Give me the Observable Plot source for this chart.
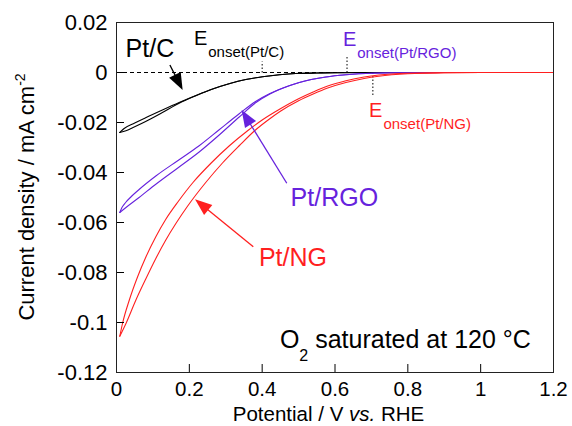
<!DOCTYPE html>
<html><head><meta charset="utf-8">
<script src="https://cdn.jsdelivr.net/npm/d3@7"></script>
<script src="https://cdn.jsdelivr.net/npm/@observablehq/plot@0.6"></script>
<style>html,body{margin:0;padding:0;background:#fff;overflow:hidden}</style>
</head><body><div id="chart"></div>
<script>
const FONT = "'Liberation Sans', Arial, sans-serif";
const series = ["Pt/C", "Pt/RGO", "Pt/NG"];
const colors = ["#000000", "#6622dd", "#ff1f1f"];
const xTicks = [0, 0.2, 0.4, 0.6, 0.8, 1, 1.2];
const yTicks = [0.02, 0, -0.02, -0.04, -0.06, -0.08, -0.1, -0.12];

// Pt/C branches (potential V vs RHE, current density mA cm-2)
const ptcE_a = [0.009, 0.02, 0.05, 0.08, 0.126, 0.172, 0.218, 0.264, 0.309, 0.355, 0.401, 0.447, 0.492, 0.55, 0.6, 0.7, 0.8, 0.9, 1.0, 1.1, 1.2];
const ptcJ_a = [-0.0240, -0.0225, -0.0202, -0.0181, -0.0150, -0.0120, -0.0092, -0.0066, -0.0045, -0.0028, -0.0017, -0.0009, -0.0004, -0.0002, -0.0001, 0, 0, 0, 0, 0, 0];
const ptcE_b = [0.009, 0.026, 0.05, 0.08, 0.126, 0.172, 0.218, 0.264, 0.309, 0.355, 0.401, 0.447, 0.492, 0.55, 0.6, 0.7, 0.8, 0.9, 1.0, 1.1, 1.2];
const ptcJ_b = [-0.0240, -0.0233, -0.0217, -0.0196, -0.0160, -0.0123, -0.0093, -0.0066, -0.0045, -0.0028, -0.0017, -0.0009, -0.0004, -0.0002, -0.0001, 0, 0, 0, 0, 0, 0];

// Pt/RGO branches
const rgoE_a = [0.009, 0.015, 0.025, 0.04, 0.062, 0.108, 0.172, 0.227, 0.282, 0.337, 0.383, 0.42, 0.447, 0.502, 0.575, 0.630, 0.703, 0.8, 0.9, 1.0, 1.2];
const rgoJ_a = [-0.0560, -0.0540, -0.0520, -0.0497, -0.0468, -0.0414, -0.0349, -0.0293, -0.0229, -0.0165, -0.0115, -0.0085, -0.0068, -0.0040, -0.0018, -0.0009, -0.0003, -0.0001, 0, 0, 0];
const rgoE_b = [0.009, 0.026, 0.062, 0.108, 0.172, 0.227, 0.282, 0.337, 0.383, 0.42, 0.447, 0.502, 0.575, 0.630, 0.703, 0.8, 0.9, 1.0, 1.2];
const rgoJ_b = [-0.0560, -0.0540, -0.0500, -0.0447, -0.0378, -0.0318, -0.0250, -0.0178, -0.0120, -0.0087, -0.0068, -0.0040, -0.0018, -0.0009, -0.0003, -0.0001, 0, 0, 0];

// Pt/NG branches
const ngE_a = [0.009, 0.0165, 0.035, 0.058, 0.081, 0.108, 0.135, 0.17, 0.21, 0.26, 0.31, 0.36, 0.40, 0.45, 0.50, 0.54, 0.58, 0.63, 0.68, 0.72, 0.8, 0.9, 1.0, 1.2];
const ngJ_a = [-0.1055, -0.1004, -0.0911, -0.0817, -0.0737, -0.0657, -0.0588, -0.0515, -0.0440, -0.0362, -0.0293, -0.0233, -0.0190, -0.0145, -0.0105, -0.0078, -0.0054, -0.0033, -0.0018, -0.0010, -0.0003, -0.0001, 0, 0];
const ngE_b = [0.009, 0.026, 0.053, 0.081, 0.108, 0.135, 0.163, 0.195, 0.245, 0.291, 0.337, 0.38, 0.42, 0.45, 0.50, 0.54, 0.58, 0.63, 0.68, 0.72, 0.8, 0.9, 1.0, 1.2];
const ngJ_b = [-0.1055, -0.1004, -0.0911, -0.0824, -0.0744, -0.0671, -0.0604, -0.0535, -0.0440, -0.0362, -0.0293, -0.0232, -0.0186, -0.0155, -0.0113, -0.0086, -0.0062, -0.0040, -0.0024, -0.0015, -0.0005, -0.0001, 0, 0];

// onset potentials (dotted markers)
const onsetE = [0.40, 0.633, 0.704];
const onsetJend = [0.0044, 0.0068, -0.0097];
const onsetLabelE = [0.214, 0.623, 0.695];
const onsetLabelJ = [0.0108, 0.0105, -0.0179];

// series labels and arrows
const labelE = [0.025, 0.478, 0.391];
const labelJ = [0.0064, -0.0532, -0.0772];
const arrowFromE = [0.148, 0.469, 0.377];
const arrowFromJ = [0.0028, -0.0445, -0.0699];
const arrowToE = [0.183, 0.345, 0.217];
const arrowToJ = [-0.0072, -0.0152, -0.0509];

// note
const noteE = 0.450, noteJ = -0.1104;

const rows = [];
function addBranch(name, branch, E, J) { E.forEach((e, i) => rows.push({series: name, branch, E: e, j: J[i]})); }
addBranch("Pt/C", "a", ptcE_a, ptcJ_a);
addBranch("Pt/C", "b", ptcE_b, ptcJ_b);
addBranch("Pt/RGO", "a", rgoE_a, rgoJ_a);
addBranch("Pt/RGO", "b", rgoE_b, rgoJ_b);
addBranch("Pt/NG", "a", ngE_a, ngJ_a);
addBranch("Pt/NG", "b", ngE_b, ngJ_b);

const onsetRows = onsetE.map((e, i) => ({E: e, j2: onsetJend[i]}));
const labelRows = series.map((s, i) => ({series: s, E: labelE[i], j: labelJ[i]}));

const W = 572, H = 426, ML = 116, MR = 19, MT = 22, MB = 54;

function annotations(index, scales, values, dimensions) {
  const {x, y} = scales;
  const g = d3.create("svg:g").attr("font-family", FONT).attr("text-anchor", "start");
  for (let i = 0; i < arrowFromE.length; i++) {
    const x1 = x(arrowFromE[i]), y1 = y(arrowFromJ[i]);
    const x2 = x(arrowToE[i]), y2 = y(arrowToJ[i]);
    const a = Math.atan2(y2 - y1, x2 - x1);
    const L = 17, hw = 6.5;
    const bx = x2 - L * Math.cos(a), by = y2 - L * Math.sin(a);
    g.append("line").attr("x1", x1).attr("y1", y1).attr("x2", bx + 2 * Math.cos(a)).attr("y2", by + 2 * Math.sin(a))
      .attr("stroke", colors[i]).attr("stroke-width", 1.3);
    g.append("path")
      .attr("d", `M${x2},${y2}L${bx - hw * Math.sin(a)},${by + hw * Math.cos(a)}L${bx + hw * Math.sin(a)},${by - hw * Math.cos(a)}Z`)
      .attr("fill", colors[i]);
  }
  for (let i = 0; i < onsetLabelE.length; i++) {
    const t = g.append("text").attr("x", x(onsetLabelE[i])).attr("y", y(onsetLabelJ[i]))
      .attr("fill", colors[i]).attr("font-size", 20);
    t.append("tspan").text("E");
    t.append("tspan").attr("font-size", 15).attr("dy", 12).attr("dx", 1).text("onset(" + series[i] + ")");
  }
  const n = g.append("text").attr("x", x(noteE)).attr("y", y(noteJ)).attr("font-size", 25).attr("fill", "#000");
  n.append("tspan").text("O");
  n.append("tspan").attr("font-size", 16).attr("dy", 13).text("2");
  n.append("tspan").attr("dy", -13).text(" saturated at 120 °C");

  const {width, height, marginLeft, marginRight, marginTop, marginBottom} = dimensions;
  const cx = (marginLeft + width - marginRight) / 2;
  const xt = g.append("text").attr("x", cx - 6).attr("y", height - 5).attr("text-anchor", "middle").attr("font-size", 20.5).attr("fill", "#000");
  xt.append("tspan").text("Potential / V ");
  xt.append("tspan").attr("font-style", "italic").text("vs.");
  xt.append("tspan").text(" RHE");
  const cy = (marginTop + height - marginBottom) / 2;
  const yt = g.append("text").attr("transform", `translate(34,${cy}) rotate(-90)`).attr("text-anchor", "middle").attr("font-size", 22).attr("fill", "#000");
  yt.append("tspan").text("Current density / mA cm");
  yt.append("tspan").attr("font-size", 14).attr("dy", -9).text("-2");
  return g.node();
}

const chart = Plot.plot({
  width: W, height: H,
  marginLeft: ML, marginRight: MR, marginTop: MT, marginBottom: MB,
  x: {domain: [0, 1.2]},
  y: {domain: [-0.12, 0.02]},
  color: {domain: series, range: colors},
  style: {fontFamily: FONT, fontSize: "22px", background: "#fff", color: "#000", overflow: "visible"},
  marks: [
    Plot.ruleY([0], {stroke: "#000", strokeWidth: 1, strokeDasharray: "4,3"}),
    Plot.link(onsetRows, {x1: "E", x2: "E", y1: d => 0, y2: "j2", stroke: "#000", strokeWidth: 1, strokeDasharray: "1.5,2"}),
    Plot.line(rows, {x: "E", y: "j", z: d => d.series + d.branch, stroke: "series", strokeWidth: 1.1, curve: "monotone-x"}),
    // inward tick marks
    Plot.tickY(yTicks, {y: d => d, stroke: "#000", strokeWidth: 1, insetRight: (W - ML - MR) - 8}),
    Plot.tickX(xTicks, {x: d => d, stroke: "#000", strokeWidth: 1, insetTop: (H - MT - MB) - 8}),
    Plot.axisX(xTicks, {tickSize: 0, tickPadding: 9, tickFormat: d => String(d), label: null, fontSize: 20.5}),
    Plot.axisY(yTicks, {tickSize: 0, tickPadding: 9, tickFormat: d => String(d), label: null, fontSize: 22}),
    Plot.frame({stroke: "#222"}),
    Plot.text(labelRows, {x: "E", y: "j", text: "series", fill: "series", textAnchor: "start", lineAnchor: "bottom", fontSize: 25}),
    annotations
  ]
});
document.getElementById("chart").append(chart);
</script>
</body></html>
